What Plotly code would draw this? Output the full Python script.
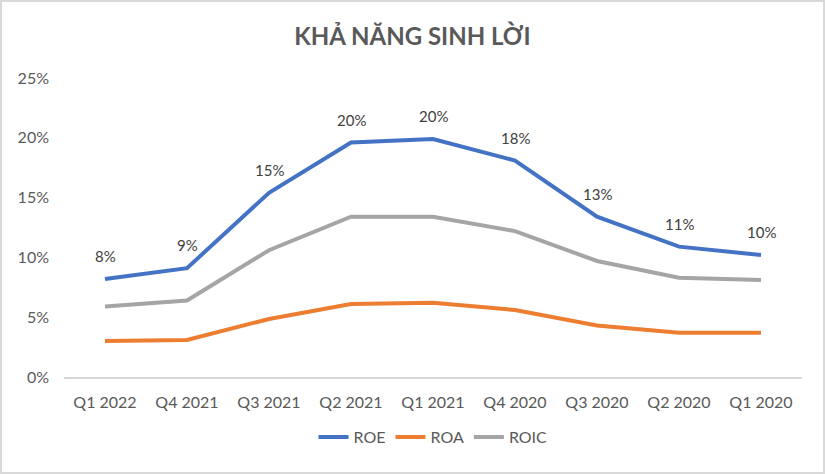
import plotly.graph_objects as go

categories = ["Q1 2022", "Q4 2021", "Q3 2021", "Q2 2021", "Q1 2021", "Q4 2020", "Q3 2020", "Q2 2020", "Q1 2020"]
roe = [0.082, 0.091, 0.154, 0.196, 0.199, 0.181, 0.134, 0.109, 0.102]
roa = [0.030, 0.031, 0.0485, 0.061, 0.062, 0.056, 0.043, 0.037, 0.037]
roic = [0.059, 0.064, 0.106, 0.134, 0.134, 0.122, 0.097, 0.083, 0.081]

W, H = 825, 474
L, R, T, B = 64, 23, 78, 97
pw, ph = W - L - R, H - T - B

font_main = "Lato, Open Sans, sans-serif"

fig = go.Figure()
fig.add_trace(go.Scatter(x=categories, y=roe, name="ROE", mode="lines",
                         line=dict(color="#4472C4", width=4)))
fig.add_trace(go.Scatter(x=categories, y=roa, name="ROA", mode="lines",
                         line=dict(color="#ED7D31", width=4)))
fig.add_trace(go.Scatter(x=categories, y=roic, name="ROIC", mode="lines",
                         line=dict(color="#A5A5A5", width=4)))

for c, v in zip(categories, roe):
    fig.add_annotation(x=c, y=v, text=f"{round(v*100):.0f}%", showarrow=False,
                       yanchor="bottom", yshift=12,
                       font=dict(family=font_main, size=15, color="#404040"))

fig.add_shape(type="rect", xref="paper", yref="paper",
              x0=(1 - L) / pw, x1=(W - 1 - L) / pw,
              y0=(T + ph - (H - 1)) / ph, y1=(T + ph - 1) / ph,
              line=dict(color="#D9D9D9", width=2), layer="below")

fig.update_layout(
    width=W, height=H,
    margin=dict(l=L, r=R, t=T, b=B, autoexpand=False),
    paper_bgcolor="white", plot_bgcolor="white",
    title=dict(text="<b>KHẢ NĂNG SINH LỜI</b>", x=0.5, xanchor="center",
               y=1 - 37 / H, yanchor="middle",
               font=dict(family=font_main, size=24, color="#595959")),
    showlegend=True,
    legend=dict(orientation="h", x=0.5, xanchor="center", y=-(437 - T - ph) / ph,
                yanchor="middle", font=dict(family=font_main, size=16, color="#595959"),
                itemwidth=30, tracegroupgap=20),
    xaxis=dict(type="category", range=[-0.5, 8.5], showgrid=False, showline=True,
               linecolor="#D9D9D9", linewidth=1.5, ticks="",
               tickfont=dict(family=font_main, size=16, color="#595959"),
               ticklabelstandoff=10),
    yaxis=dict(range=[0, 0.25], tickvals=[0, 0.05, 0.10, 0.15, 0.20, 0.25],
               tickformat=".0%", showgrid=False, zeroline=False, showline=False,
               tickfont=dict(family=font_main, size=16, color="#595959"),
               ticklabelstandoff=14),
)

fig.write_html("out.html", config={"displayModeBar": False},
               post_script="document.body.style.margin='0';")
